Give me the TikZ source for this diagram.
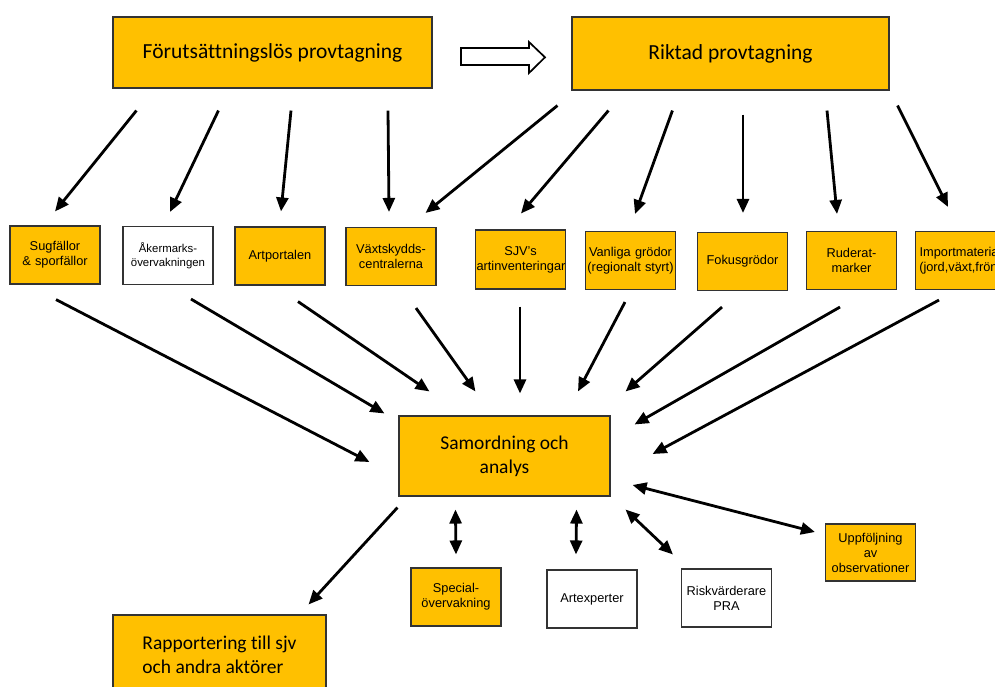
\documentclass[tikz,border=0pt]{standalone}
\usepackage{fontspec}
\setmainfont{Liberation Sans}
\newfontfamily\calibri{Carlito}[Ligatures=NoCommon]
\usetikzlibrary{arrows.meta}
\definecolor{guld}{HTML}{FFC000}

\begin{document}
\begin{tikzpicture}[x=1pt,y=-1pt,
    ruta/.style={draw=black!80,line width=1.1pt,fill=guld},
    box/.style={ruta,text width=88pt,inner xsep=1pt,minimum height=58pt,
      align=center,font=\fontsize{12.8}{15}\selectfont},
    wbox/.style={box,fill=white},
    bigbox/.style={ruta,align=center,font=\calibri\fontsize{21.5}{25}\selectfont},
    pil/.style={line width=2.8pt,-{Triangle[length=14pt,width=12pt]}},
    dpil/.style={line width=2.8pt,{Triangle[length=14pt,width=12pt]}-{Triangle[length=14pt,width=12pt]}}]
  \useasboundingbox (0,0) rectangle (995,686);

  \node[bigbox,minimum width=319pt,minimum height=71pt] (forut) at (272.5,52.5) {Förutsättningslös provtagning};
  \node[bigbox,minimum width=317pt,minimum height=73pt] (riktad) at (730.5,53.5) {Riktad provtagning};
  \draw[line width=1.7pt,fill=white] (461,48) -- (529,48) -- (529,42) -- (545,57.3)
    -- (529,73) -- (529,65) -- (461,65) -- cycle;

  \node[box] (sug) at (55,255) {Sugfällor\\\& sporfällor};
  \node[wbox,font=\fontsize{11.4}{14}\selectfont] (aker) at (168,255.5) {Åkermarks-\\övervakningen};
  \node[box] (artp) at (280,256) {Artportalen};
  \node[box] (vaxt) at (391,256.5) {Växtskydds-\\centralerna};
  \node[box,minimum height=59pt] (sjv) at (520.5,259.5) {SJV’s\\artinventeringar};
  \node[box] (vanl) at (630.5,260.5) {Vanliga grödor\\(regionalt styrt)};
  \node[box] (fokus) at (742.5,261.5) {Fokusgrödor};
  \node[box] (ruder) at (851.5,260.5) {Ruderat-\\marker};
  \node[box] (import) at (960.5,260.5) {Importmaterial\\(jord,växt,frön)};

  \node[bigbox,font=\calibri\fontsize{19.5}{24}\selectfont,minimum width=211pt,minimum height=80pt]
    (samord) at (504.5,456) {Samordning och\\analys};

  \node[box] (special) at (456,597) {Special-\\övervakning};
  \node[wbox] (artex) at (592,599) {Artexperter};
  \node[wbox] (risk) at (726.5,598) {Riskvärderare\\PRA};
  \node[box,minimum height=57pt] (uppf) at (870.5,552.5) {Uppföljning\\av\\observationer};
  \node[bigbox,align=left,font=\calibri\fontsize{19.5}{24}\selectfont,minimum width=213pt,minimum height=80pt]
    (rapp) at (219.5,655) {Rapportering till sjv\\och andra aktörer};

  % provtagning -> kanaler
  \draw[pil] ([shift={(24,22)}]forut.south west) -- ([shift={(0,-14)}]sug.north);
  \draw[pil] ([shift={(106,22)}]forut.south west) -- ([shift={(2,-14)}]aker.north);
  \draw[pil] ([shift={(18.5,22)}]forut.south) -- ([shift={(1,-15)}]artp.north);
  \draw[pil] ([shift={(115.5,22)}]forut.south) -- ([shift={(-2,-15)}]vaxt.north);
  \draw[pil] ([shift={(-14,15)}]riktad.south west) -- ([shift={(-11,-14)}]vaxt.north east);
  \draw[pil] ([shift={(37,20)}]riktad.south west) -- ([shift={(0.5,-16)}]sjv.north);
  \draw[pil] ([shift={(101,20)}]riktad.south west) -- ([shift={(4.5,-17)}]vanl.north);
  \draw[pil] ([shift={(12.5,24)}]riktad.south) -- ([shift={(0.5,-19)}]fokus.north);
  \draw[pil] ([shift={(96.5,20)}]riktad.south) -- ([shift={(-14.5,-17)}]ruder.north);
  \draw[pil] ([shift={(8,15)}]riktad.south east) -- ([shift={(-12.5,-24)}]import.north);

  % kanaler -> samordning
  \draw[pil] ([shift={(1,15)}]sug.south) -- ([shift={(-29,6)}]samord.west);
  \draw[pil] ([shift={(23,14)}]aker.south) -- ([shift={(-14,-2)}]samord.north west);
  \draw[pil] ([shift={(18,16)}]artp.south) -- ([shift={(31,-24)}]samord.north west);
  \draw[pil] ([shift={(25,22)}]vaxt.south) -- ([shift={(77,-24)}]samord.north west);
  \draw[pil] ([shift={(-0.5,17)}]sjv.south) -- ([shift={(15.5,-22)}]samord.north);
  \draw[pil] ([shift={(-5.5,12)}]vanl.south) -- ([shift={(73.5,-24)}]samord.north);
  \draw[pil] ([shift={(-20.5,16)}]fokus.south) -- ([shift={(15,-24)}]samord.north east);
  \draw[pil] ([shift={(-11.5,17)}]ruder.south) -- ([shift={(24,9)}]samord.north east);
  \draw[pil] ([shift={(-21.5,10)}]import.south) -- ([shift={(42,-2)}]samord.east);

  % samordning -> ut
  \draw[pil] ([shift={(-1,11)}]samord.south west) -- ([shift={(-18,-10)}]rapp.north east);
  \draw[dpil] ([shift={(57,13)}]samord.south west) -- ([shift={(0,-13)}]special.north);
  \draw[dpil] ([shift={(-34,13)}]samord.south east) -- ([shift={(-16,-15)}]artex.north);
  \draw[dpil] ([shift={(15,13)}]samord.south east) -- ([shift={(-8,-14)}]risk.north west);
  \draw[dpil] ([shift={(22,29)}]samord.east) -- ([shift={(-10,-20.5)}]uppf.west);
\end{tikzpicture}
\end{document}
